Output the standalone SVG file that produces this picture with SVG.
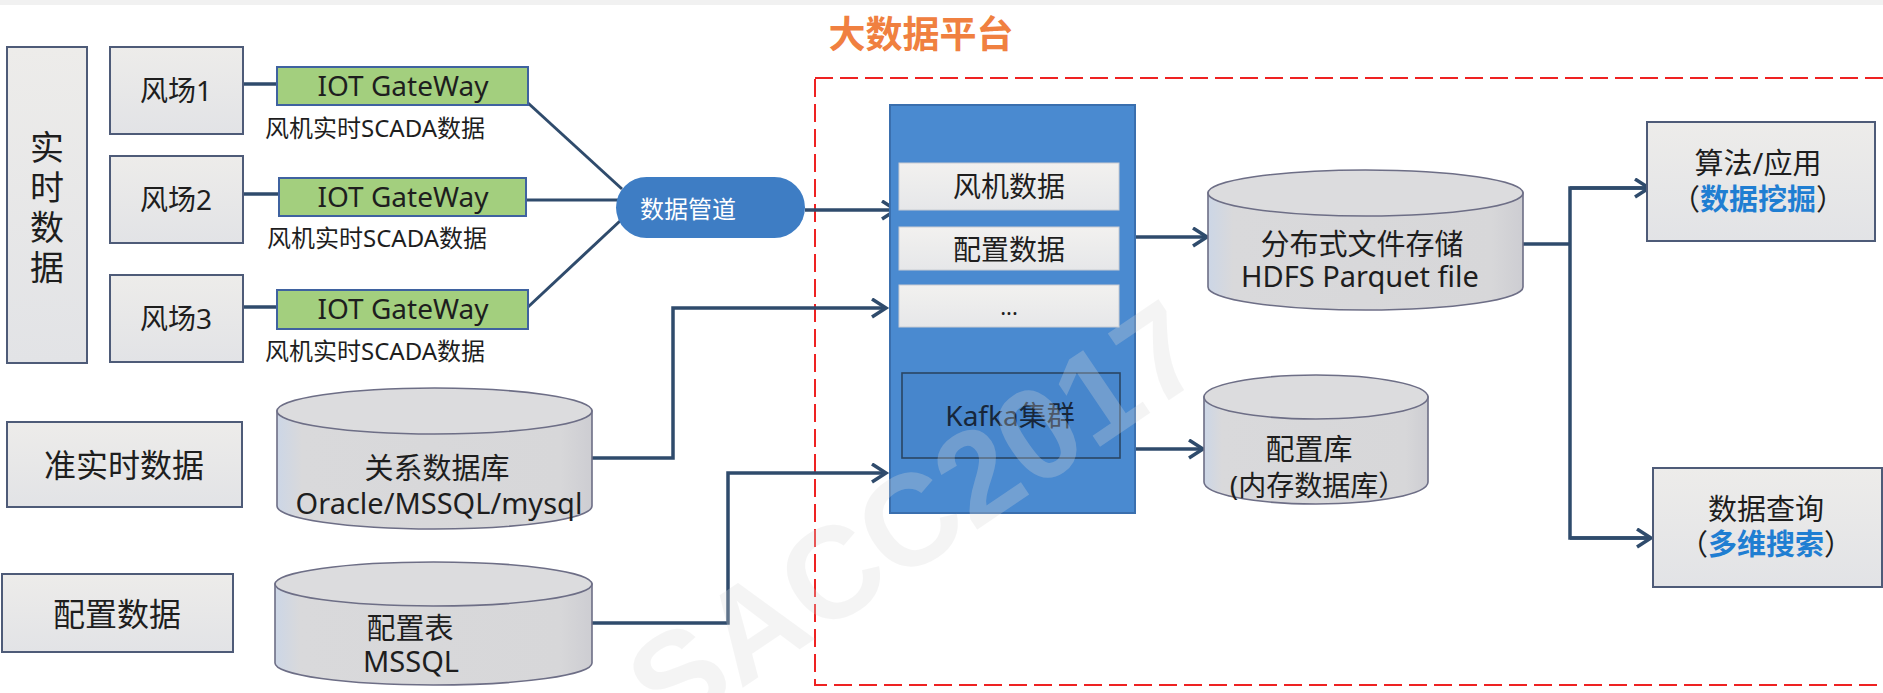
<svg xmlns="http://www.w3.org/2000/svg" width="1883" height="693" viewBox="0 0 1883 693">
  <defs>
    <linearGradient id="boxFill" x1="0" y1="0" x2="0" y2="1">
      <stop offset="0" stop-color="#EDECEA"/>
      <stop offset="1" stop-color="#E2E3E6"/>
    </linearGradient>
    <linearGradient id="cylBody" x1="0" y1="0" x2="1" y2="0">
      <stop offset="0" stop-color="#CCD6E6"/>
      <stop offset="0.08" stop-color="#D9D9DB"/>
      <stop offset="0.9" stop-color="#D7D7D9"/>
      <stop offset="1" stop-color="#CDCDD2"/>
    </linearGradient>
    <linearGradient id="rowFill" x1="0" y1="0" x2="0" y2="1">
      <stop offset="0" stop-color="#F2F1EF"/>
      <stop offset="1" stop-color="#E6E7E9"/>
    </linearGradient>
    <marker id="arrow" markerUnits="userSpaceOnUse" markerWidth="22" markerHeight="24" refX="16" refY="10" orient="auto">
      <path d="M2,1 L16,10 L2,19" fill="none" stroke="#2F4B6C" stroke-width="3.5" stroke-linejoin="miter"/>
    </marker>
    <style>
      text { font-family: "Noto Sans", "Noto Sans CJK SC", sans-serif; fill: #1E1E1E; text-anchor: middle; dominant-baseline: central; }
      .box { fill: url(#boxFill); stroke: #4E5B78; stroke-width: 2; }
      .iot { fill: #A3CF7E; stroke: #3F62A0; stroke-width: 2; }
      .cyl { fill: url(#cylBody); stroke: #6D6E86; stroke-width: 1.6; }
      .cyltop { fill: #DCDCDE; stroke: #6D6E86; stroke-width: 1.6; }
      .row { fill: url(#rowFill); stroke: #C9CCD2; stroke-width: 1; }
      .wire { fill: none; stroke: #2F4B6C; stroke-width: 3.5; }
      .thin { fill: none; stroke: #2F4B6C; stroke-width: 3; }
      .t28 { font-size: 28px; }
      .t29 { font-size: 29px; }
      .t32 { font-size: 32px; }
      .hl { fill: #1F7ED2; font-weight: bold; }
    </style>
  </defs>

  <rect x="0" y="0" width="1883" height="693" fill="#FFFFFF"/>
  <rect x="0" y="0" width="1883" height="5" fill="#F1F1F1"/>

  <!-- platform frame and title -->
  <g id="platform">
    <rect x="815" y="78" width="1090" height="607" fill="none" stroke="#EE2222" stroke-width="2" stroke-dasharray="18 7"/>
    <text x="921" y="33" style="font-size:37px;font-weight:bold;fill:#F08040">大数据平台</text>
  </g>

  <!-- connectors -->
  <g id="connectors">
    <line class="wire" x1="243" y1="84" x2="277" y2="84"/>
    <line class="wire" x1="243" y1="194" x2="279" y2="194"/>
    <line class="wire" x1="243" y1="307" x2="277" y2="307"/>
    <line class="thin" x1="528" y1="103" x2="622" y2="189"/>
    <line class="thin" x1="526" y1="200" x2="618" y2="200"/>
    <line class="thin" x1="528" y1="307" x2="620" y2="221"/>
    <line class="wire" x1="805" y1="210" x2="896" y2="210" marker-end="url(#arrow)"/>
    <polyline class="wire" points="592,458 673,458 673,308 886,308" marker-end="url(#arrow)"/>
    <polyline class="wire" points="592,623 728,623 728,473 886,473" marker-end="url(#arrow)"/>
    <line class="wire" x1="1135" y1="237" x2="1207" y2="237" marker-end="url(#arrow)"/>
    <line class="wire" x1="1135" y1="449" x2="1203" y2="449" marker-end="url(#arrow)"/>
    <polyline class="wire" points="1523,244 1570,244"/>
    <polyline class="wire" points="1650,188 1570,188 1570,538 1651,538"/>
    <line class="wire" x1="1570" y1="188" x2="1649" y2="188" marker-end="url(#arrow)"/>
    <line class="wire" x1="1570" y1="538" x2="1651" y2="538" marker-end="url(#arrow)"/>
  </g>

  <!-- real-time data column -->
  <g id="realtime">
    <rect class="box" x="7" y="47" width="80" height="316"/>
    <text x="47" y="147" style="font-size:34px">实</text>
    <text x="47" y="187" style="font-size:34px">时</text>
    <text x="47" y="227" style="font-size:34px">数</text>
    <text x="47" y="267" style="font-size:34px">据</text>
  </g>

  <g id="farm1">
    <rect class="box" x="110" y="47" width="133" height="87"/>
    <text class="t28" x="176" y="90">风场1</text>
  </g>
  <g id="farm2">
    <rect class="box" x="110" y="156" width="133" height="87"/>
    <text class="t28" x="176" y="199">风场2</text>
  </g>
  <g id="farm3">
    <rect class="box" x="110" y="275" width="133" height="87"/>
    <text class="t28" x="176" y="318">风场3</text>
  </g>

  <g id="gateway1">
    <rect class="iot" x="277" y="67" width="251" height="38"/>
    <text class="t28" x="403" y="85">IOT GateWay</text>
    <text x="375" y="127" style="font-size:24px">风机实时SCADA数据</text>
  </g>
  <g id="gateway2">
    <rect class="iot" x="279" y="178" width="247" height="38"/>
    <text class="t28" x="403" y="196">IOT GateWay</text>
    <text x="377" y="237" style="font-size:24px">风机实时SCADA数据</text>
  </g>
  <g id="gateway3">
    <rect class="iot" x="277" y="290" width="251" height="39"/>
    <text class="t28" x="403" y="308">IOT GateWay</text>
    <text x="375" y="350" style="font-size:24px">风机实时SCADA数据</text>
  </g>

  <g id="pipeline">
    <rect x="616" y="177" width="189" height="61" rx="30.5" fill="#3E7DC4"/>
    <text x="688" y="208" style="font-size:24px;fill:#FFFFFF">数据管道</text>
  </g>

  <g id="near-realtime">
    <rect class="box" x="7" y="422" width="235" height="85"/>
    <text class="t32" x="124" y="464">准实时数据</text>
  </g>
  <g id="config-data">
    <rect class="box" x="2" y="574" width="231" height="78"/>
    <text class="t32" x="117" y="613">配置数据</text>
  </g>

  <g id="rdbms">
    <path class="cyl" d="M277,411 L277,506 A157.5,23 0 0 0 592,506 L592,411 Z"/>
    <ellipse class="cyltop" cx="434.5" cy="411" rx="157.5" ry="23"/>
    <text class="t29" x="437" y="467">关系数据库</text>
    <text class="t29" x="439" y="502">Oracle/MSSQL/mysql</text>
  </g>
  <g id="config-table">
    <path class="cyl" d="M275,584 L275,663 A158.5,22 0 0 0 592,663 L592,584 Z"/>
    <ellipse class="cyltop" cx="433.5" cy="584" rx="158.5" ry="22"/>
    <text class="t29" x="410" y="627">配置表</text>
    <text class="t29" x="411" y="660">MSSQL</text>
  </g>

  <!-- message cluster -->
  <g id="kafka">
    <rect x="890" y="105" width="245" height="408" fill="#4A8AD0" stroke="#3A6FAE" stroke-width="2"/>
    <rect class="row" x="899" y="163" width="220" height="47"/>
    <text class="t28" x="1009" y="186">风机数据</text>
    <rect class="row" x="899" y="227" width="220" height="43"/>
    <text class="t28" x="1009" y="249">配置数据</text>
    <rect class="row" x="899" y="285" width="220" height="42"/>
    <text x="1009" y="306" style="font-size:22px">...</text>
    <rect x="902" y="373" width="218" height="85" fill="#4786CC" stroke="#2A4563" stroke-width="1.6"/>
    <text class="t28" x="1010" y="415" style="fill:#17263A">Kafka集群</text>
  </g>

  <g id="hdfs">
    <path class="cyl" d="M1208,193 L1208,287 A157.5,23 0 0 0 1523,287 L1523,193 Z"/>
    <ellipse class="cyltop" cx="1365.5" cy="193" rx="157.5" ry="23"/>
    <text class="t29" x="1362" y="243">分布式文件存储</text>
    <text class="t29" x="1360" y="275">HDFS Parquet file</text>
  </g>
  <g id="config-store">
    <path class="cyl" d="M1204,397 L1204,482 A112,22 0 0 0 1428,482 L1428,397 Z"/>
    <ellipse class="cyltop" cx="1316" cy="397" rx="112" ry="22"/>
    <text class="t29" x="1309" y="448">配置库</text>
    <text class="t28" x="1318" y="485">(内存数据库）</text>
  </g>

  <g id="mining">
    <rect class="box" x="1647" y="122" width="228" height="119"/>
    <text class="t29" x="1758" y="162">算法/应用</text>
    <text class="t29" x="1758" y="198">（<tspan class="hl">数据挖掘</tspan>）</text>
  </g>
  <g id="query">
    <rect class="box" x="1653" y="468" width="229" height="119"/>
    <text class="t29" x="1766" y="508">数据查询</text>
    <text class="t29" x="1766" y="543">（<tspan class="hl">多维搜索</tspan>）</text>
  </g>

  <!-- faint diagonal watermark -->
  <text x="668" y="738" transform="rotate(-34 668 738)" style="font-family:'Liberation Sans',sans-serif;font-size:130px;font-weight:bold;fill:#DADADA;opacity:0.28;text-anchor:start;dominant-baseline:alphabetic">SACC2017</text>
</svg>
